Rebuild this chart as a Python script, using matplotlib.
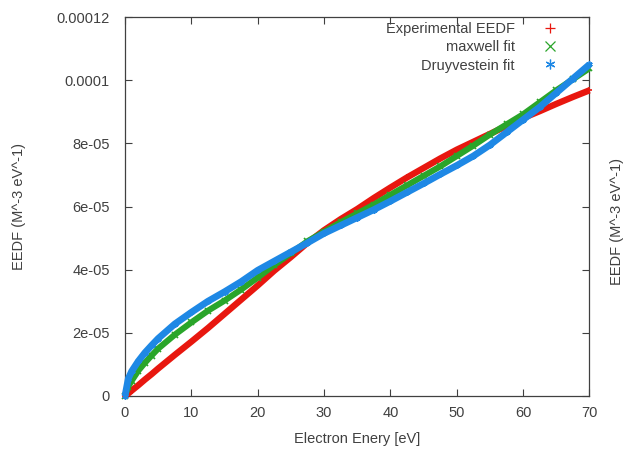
import numpy as np
import matplotlib.pyplot as plt
from matplotlib.lines import Line2D

plt.rcParams['font.family'] = ['Liberation Sans', 'DejaVu Sans']

# Electron energy [eV] and EEDF values (units of 1e-5)
energy = [0, 0.5, 1, 2, 3, 4, 5, 7.5, 10, 12.5, 15, 17.5, 20, 22.5, 25, 27.5,
          30, 32.5, 35, 37.5, 40, 42.5, 45, 47.5, 50, 52.5, 55, 57.5, 60,
          62.5, 65, 67.5, 70]
experimental = [0, 0.08, 0.17, 0.34, 0.52, 0.69, 0.87, 1.3, 1.72, 2.15, 2.6,
                3.05, 3.5, 3.97, 4.4, 4.85, 5.25, 5.6, 5.92, 6.27, 6.6, 6.92,
                7.22, 7.52, 7.8, 8.05, 8.3, 8.55, 8.8, 9.02, 9.25, 9.47, 9.68]
maxwell = [0, 0.3, 0.48, 0.8, 1.05, 1.28, 1.5, 1.94, 2.33, 2.7, 3.02, 3.37,
           3.75, 4.15, 4.52, 4.9, 5.2, 5.5, 5.78, 6.06, 6.37, 6.67, 6.97,
           7.27, 7.6, 7.93, 8.28, 8.6, 8.92, 9.3, 9.68, 10.03, 10.38]
druyvestein = [0, 0.55, 0.78, 1.1, 1.37, 1.6, 1.82, 2.28, 2.65, 3.0, 3.3,
               3.62, 3.98, 4.27, 4.56, 4.85, 5.15, 5.4, 5.65, 5.9, 6.17, 6.45,
               6.73, 7.02, 7.3, 7.6, 7.95, 8.35, 8.75, 9.15, 9.6, 10.05, 10.5]

xticks = [0, 10, 20, 30, 40, 50, 60, 70]
yticks = [0, 2e-5, 4e-5, 6e-5, 8e-5, 1e-4, 1.2e-4]
ytick_labels = ['0', '2e-05', '4e-05', '6e-05', '8e-05', '0.0001', '0.00012']

red = '#e8170f'
green = '#2aa52a'
blue = '#1e88e5'
txt = '#404040'

E = np.array(energy)
series = [
    (np.array(experimental) * 1e-5, red, '+', 4.6, 'Experimental EEDF'),
    (np.array(maxwell) * 1e-5, green, 'x', 4.4, 'maxwell fit'),
    (np.array(druyvestein) * 1e-5, blue, (6, 2, 0), 4.9, 'Druyvestein fit'),
]

fig = plt.figure(figsize=(6.24, 4.61), dpi=100)
ax = fig.add_axes([0.2003, 0.141, 0.7444, 0.822])

handles = []
for vals, col, mk, lw, lab in series:
    ax.plot(E, vals, color=col, lw=lw, solid_capstyle='butt', zorder=3,
            clip_on=False)
    ax.plot(E, vals, ls='none', marker=mk, color=col, ms=4.5, mew=1.2,
            zorder=3, clip_on=False)
    handles.append(Line2D([], [], ls='none', marker=mk, color=col, ms=7,
                          mew=0.9, label=lab))

ax.set_xlim(0, 70)
ax.set_ylim(0, 1.2e-4)
ax.set_xticks(xticks)
ax.set_yticks(yticks)
ax.set_yticklabels(ytick_labels)
ax.tick_params(direction='in', length=5, width=0.8, colors=txt,
               labelsize=10.5, top=True, right=True, pad=7)
ax.tick_params(axis='y', pad=11)
for s in ax.spines.values():
    s.set_color(txt)
    s.set_linewidth(0.9)

ax.set_xlabel('Electron Enery [eV]', fontsize=10.5, color=txt, labelpad=9)
ax.set_ylabel('EEDF (M^-3 eV^-1)', fontsize=10.5, color=txt, labelpad=22)
fig.text(0.988, 0.52, 'EEDF (M^-3 eV^-1)', rotation=90, fontsize=10.5,
         color=txt, ha='center', va='center')

leg = ax.legend(handles=handles, loc='upper right', frameon=False,
                markerfirst=False, fontsize=10.5, handlelength=1.0,
                handletextpad=1.9, labelspacing=0.3,
                bbox_to_anchor=(0.958, 1.022))
for t in leg.get_texts():
    t.set_color(txt)

fig.savefig('out.png', dpi=100)
